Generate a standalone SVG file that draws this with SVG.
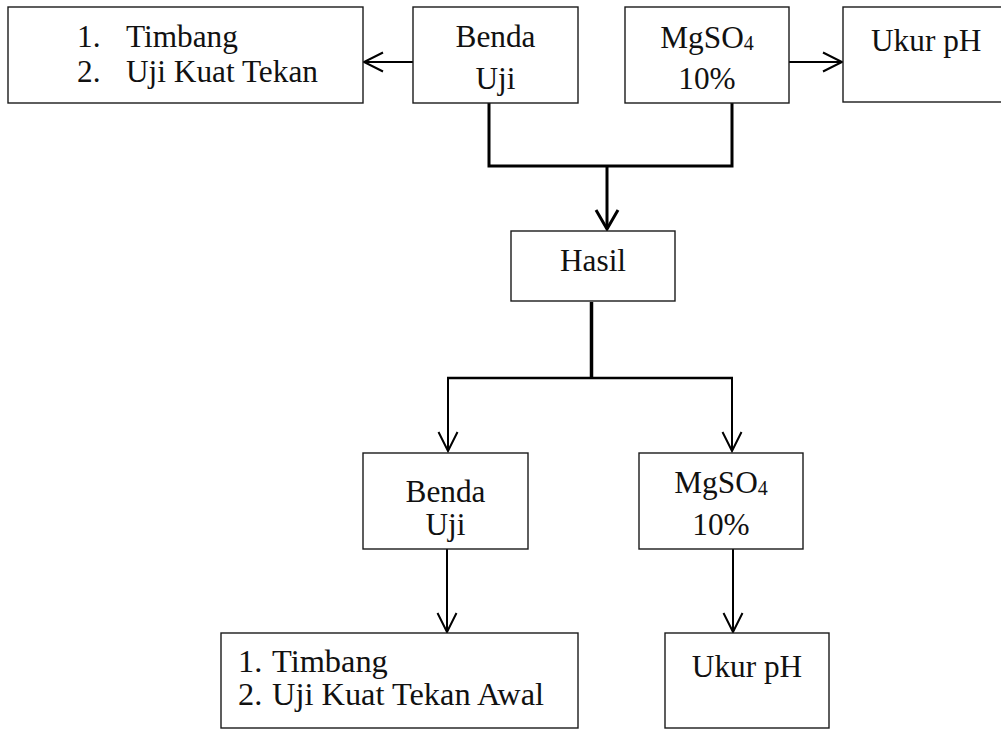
<svg xmlns="http://www.w3.org/2000/svg" width="1001" height="729" viewBox="0 0 1001 729">
<style>
  .box { fill: #fff; stroke: #1a1a1a; stroke-width: 1.4; }
  .t { font-family: "Liberation Serif", "Times New Roman", serif; font-size: 31.3px; fill: #111; }
  .big { font-size: 32.4px; }
  .c { text-anchor: middle; }
  .sub { font-size: 20px; }
  .ln { fill: none; stroke: #000; stroke-width: 2; }
  .thick { fill: none; stroke: #000; stroke-width: 3; }
</style>
<defs>
  <marker id="ah" markerUnits="userSpaceOnUse" markerWidth="26" markerHeight="26" viewBox="-2 -2 26 26" refX="19" refY="9.5" orient="auto">
    <path d="M0,0 L19,9.5 L0,19" fill="none" stroke="#000" stroke-width="2"/>
  </marker>
  <marker id="ahb" markerUnits="userSpaceOnUse" markerWidth="28" markerHeight="30" viewBox="-2 -2 28 30" refX="19" refY="11" orient="auto">
    <path d="M0,0 L19,11 L0,22" fill="none" stroke="#000" stroke-width="3"/>
  </marker>
</defs>

<g id="connectors">
  <line class="ln" x1="413" y1="62" x2="364" y2="62" marker-end="url(#ah)"/>
  <line class="ln" x1="789" y1="62" x2="842" y2="62" marker-end="url(#ah)"/>
  <path class="thick" d="M489,103 V166 H732 V103"/>
  <line class="thick" x1="607" y1="166" x2="607" y2="229" marker-end="url(#ahb)"/>
  <line x1="591.5" y1="302" x2="591.5" y2="379" stroke="#000" stroke-width="3.5"/>
  <line x1="447" y1="378" x2="733" y2="378" stroke="#000" stroke-width="2.5"/>
  <line class="ln" x1="448" y1="377" x2="448" y2="451" marker-end="url(#ah)"/>
  <line class="ln" x1="732" y1="377" x2="732" y2="451" marker-end="url(#ah)"/>
  <line class="ln" x1="447" y1="549" x2="447" y2="632" marker-end="url(#ah)"/>
  <line class="ln" x1="733" y1="549" x2="733" y2="632" marker-end="url(#ah)"/>
</g>

<g id="list-top">
  <rect class="box" x="8" y="7" width="355" height="96"/>
  <text class="t" x="77" y="47">1.</text>
  <text class="t" x="126" y="47">Timbang</text>
  <text class="t" x="77" y="82">2.</text>
  <text class="t" x="126" y="82">Uji Kuat Tekan</text>
</g>

<g id="benda-uji-top">
  <rect class="box" x="413" y="7" width="165" height="96"/>
  <text class="t c" x="495.5" y="47">Benda</text>
  <text class="t c" x="495.5" y="89">Uji</text>
</g>

<g id="mgso4-top">
  <rect class="box" x="625" y="7" width="164" height="96"/>
  <text class="t c" x="707" y="48">MgSO<tspan class="sub" dy="2">4</tspan></text>
  <text class="t c" x="707" y="89">10%</text>
</g>

<g id="ukur-ph-top">
  <rect class="box" x="843" y="7" width="170" height="95"/>
  <text class="t" x="871" y="51">Ukur pH</text>
</g>

<g id="hasil">
  <rect class="box" x="511" y="231" width="164" height="70"/>
  <text class="t c" x="593" y="271">Hasil</text>
</g>

<g id="benda-uji-bottom">
  <rect class="box" x="363" y="453" width="165" height="96"/>
  <text class="t c" x="445.5" y="502">Benda</text>
  <text class="t c" x="445.5" y="535">Uji</text>
</g>

<g id="mgso4-bottom">
  <rect class="box" x="639" y="453" width="164" height="96"/>
  <text class="t c" x="721" y="493">MgSO<tspan class="sub" dy="2">4</tspan></text>
  <text class="t c" x="721" y="535">10%</text>
</g>

<g id="list-bottom">
  <rect class="box" x="221" y="633" width="357" height="95"/>
  <text class="t big" x="238" y="672">1.</text>
  <text class="t big" x="272" y="672">Timbang</text>
  <text class="t big" x="238" y="705">2.</text>
  <text class="t big" x="272" y="705">Uji Kuat Tekan Awal</text>
</g>

<g id="ukur-ph-bottom">
  <rect class="box" x="665" y="633" width="164" height="95"/>
  <text class="t c" x="747" y="677">Ukur pH</text>
</g>
</svg>
